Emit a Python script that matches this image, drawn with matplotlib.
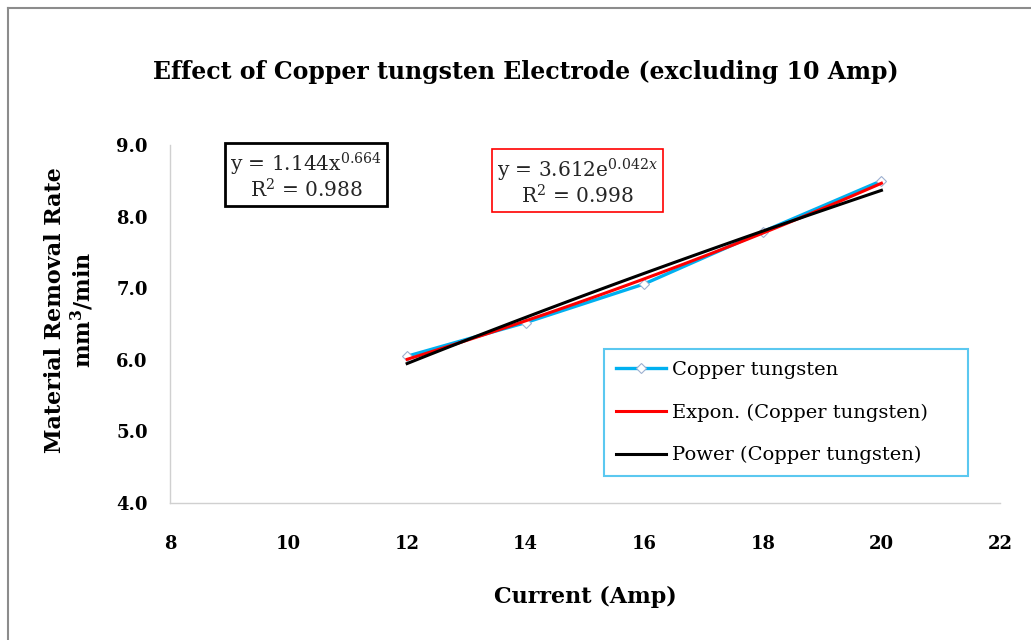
import matplotlib
matplotlib.use("Agg")
import matplotlib.pyplot as plt
import numpy as np
from matplotlib.lines import Line2D

# data
current = [12, 14, 16, 18, 20]
mrr = [6.05, 6.52, 7.06, 7.79, 8.50]
x_ticks = [8, 10, 12, 14, 16, 18, 20, 22]
y_ticks = [4.0, 5.0, 6.0, 7.0, 8.0, 9.0]
power_label = "y = 1.144x$^{0.664}$\nR$^{2}$ = 0.988"
expon_label = "y = 3.612e$^{0.042x}$\nR$^{2}$ = 0.998"

plt.rcParams['font.family'] = ['DejaVu Serif']
plt.rcParams['mathtext.fontset'] = 'dejavuserif'

fig = plt.figure(figsize=(10.31, 6.4), dpi=100)
ax = fig.add_axes([170 / 1031, 1 - 503 / 640, 830 / 1031, 358 / 640])

x = np.array(current, dtype=float)
y = np.array(mrr, dtype=float)

# trendlines fitted like Excel does
b_exp, a_exp = np.polyfit(x, np.log(y), 1)
b_pow, a_pow = np.polyfit(np.log(x), np.log(y), 1)
xs = np.linspace(x.min(), x.max(), 100)

ax.plot(x, y, color='#00B0F0', lw=2.4, marker='D', ms=5, mfc='white',
        mec='#9DB0D0', mew=0.8, label='Copper tungsten', zorder=2)
ax.plot(xs, np.exp(a_exp) * np.exp(b_exp * xs), color='#FF0000', lw=2.2,
        label='Expon. (Copper tungsten)', zorder=3)
ax.plot(xs, np.exp(a_pow) * xs ** b_pow, color='black', lw=2.2,
        label='Power (Copper tungsten)', zorder=4)

ax.set_xlim(8, 22)
ax.set_ylim(4, 9)
ax.set_xticks(x_ticks)
ax.set_yticks(y_ticks)
ax.set_xticklabels([str(t) for t in x_ticks], fontweight='bold', fontsize=13)
ax.set_yticklabels([f"{t:.1f}" for t in y_ticks], fontweight='bold', fontsize=13)
ax.tick_params(length=0)
ax.tick_params(axis='x', pad=23)
ax.tick_params(axis='y', pad=16)
for s in ['top', 'right']:
    ax.spines[s].set_visible(False)
for s in ['left', 'bottom']:
    ax.spines[s].set_color('#D0D0D0')
    ax.spines[s].set_linewidth(1)

ax.text(0.164, 0.913, power_label, transform=ax.transAxes, ha='center', va='center',
        fontsize=14.5, color='#262626', linespacing=1.0,
        bbox=dict(boxstyle='square,pad=0.25', fc='white', ec='black', lw=2))
ax.text(0.491, 0.897, expon_label, transform=ax.transAxes, ha='center', va='center',
        fontsize=14.5, color='#262626', linespacing=1.0,
        bbox=dict(boxstyle='square,pad=0.25', fc='white', ec='red', lw=1.2))

leg = ax.legend(loc='lower left', bbox_to_anchor=(0.523, 0.075, 0.438, 0.364),
                mode='expand', fontsize=14, fancybox=False, framealpha=1,
                handlelength=2.6, handletextpad=0.3, labelspacing=1.26,
                borderpad=0.6, borderaxespad=0)
leg.get_frame().set_edgecolor('#5BC8F0')
leg.get_frame().set_linewidth(1.5)

fig.text(526 / 1031, 1 - 72 / 640, "Effect of Copper tungsten Electrode (excluding 10 Amp)",
         ha='center', va='center', fontsize=17, fontweight='bold')
fig.text(585 / 1031, 1 - 597 / 640, "Current (Amp)", ha='center', va='center',
         fontsize=16, fontweight='bold')
fig.text(70 / 1031, 1 - 310 / 640, "Material Removal Rate\nmm$^{\\mathbf{3}}$/min",
         ha='center', va='center', rotation=90, fontsize=16, fontweight='bold',
         linespacing=1.1)

# outer chart frame
fig.add_artist(Line2D([8 / 1031, 8 / 1031], [0, 1 - 8 / 640], color='#8C8C8C', lw=1.5))
fig.add_artist(Line2D([8 / 1031, 1], [1 - 8 / 640, 1 - 8 / 640], color='#8C8C8C', lw=1.5))

fig.savefig("out.png", dpi=100)
